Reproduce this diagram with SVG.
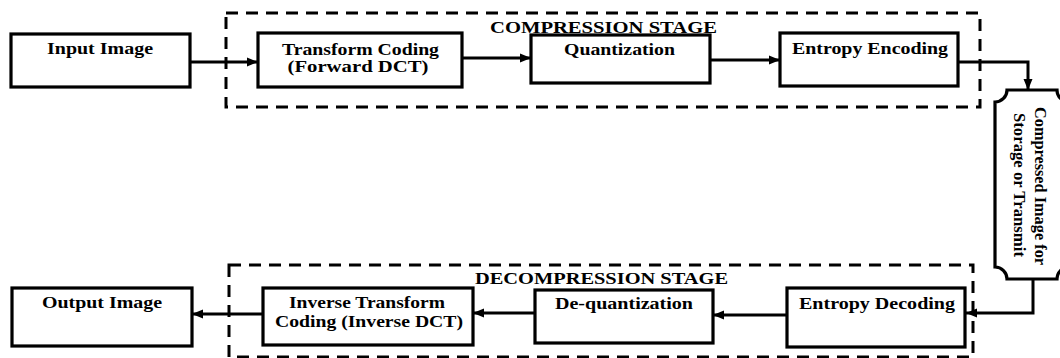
<svg xmlns="http://www.w3.org/2000/svg" width="1060" height="358" viewBox="0 0 1060 358">
  <style>
    .box { fill: #ffffff; stroke: #000000; stroke-width: 3.2; }
    .stage { fill: none; stroke: #000000; stroke-width: 3; stroke-dasharray: 12 8; }
    .lbl { font-family: "Liberation Serif", "Times New Roman", serif; font-weight: bold; font-size: 17px; fill: #000000; text-anchor: middle; }
    .cap { font-family: "Liberation Serif", "Times New Roman", serif; font-weight: bold; font-size: 17px; fill: #000000; text-anchor: middle; }
    .wire { fill: none; stroke: #000000; stroke-width: 3; }
  </style>
  <defs>
    <marker id="arrow" markerUnits="userSpaceOnUse" markerWidth="12" markerHeight="12" viewBox="0 0 12 12" refX="11" refY="6" orient="auto">
      <path d="M0,1.5 L11,6 L0,10.5 Z" fill="#000000"/>
    </marker>
  </defs>

  <rect width="1060" height="358" fill="#ffffff"/>

  <!-- stage frames -->
  <g id="compression-stage">
    <rect class="stage" x="226" y="13" width="754" height="94"/>
    <text class="cap" x="603.5" y="33" textLength="227" lengthAdjust="spacingAndGlyphs">COMPRESSION  STAGE</text>
  </g>
  <g id="decompression-stage">
    <rect class="stage" x="229" y="265" width="744" height="92"/>
    <text class="cap" x="601.5" y="284" textLength="253" lengthAdjust="spacingAndGlyphs">DECOMPRESSION  STAGE</text>
  </g>

  <!-- connectors -->
  <g id="connectors">
    <path class="wire" d="M190,62 H258" marker-end="url(#arrow)"/>
    <path class="wire" d="M462,58 H531" marker-end="url(#arrow)"/>
    <path class="wire" d="M710,60 H780" marker-end="url(#arrow)"/>
    <path class="wire" d="M958,62 H1028 V90" marker-end="url(#arrow)"/>
    <path class="wire" d="M1033,279 V313 H966" marker-end="url(#arrow)"/>
    <path class="wire" d="M787,315 H713" marker-end="url(#arrow)"/>
    <path class="wire" d="M535,313 H473" marker-end="url(#arrow)"/>
    <path class="wire" d="M263,314 H192" marker-end="url(#arrow)"/>
  </g>

  <!-- compression path -->
  <g id="input-image">
    <rect class="box" x="11" y="34" width="179" height="53"/>
    <text class="lbl" x="100" y="54" textLength="106" lengthAdjust="spacingAndGlyphs">Input Image</text>
  </g>
  <g id="transform-coding">
    <rect class="box" x="258" y="33" width="204" height="54"/>
    <text class="lbl" x="360.5" y="55" textLength="157" lengthAdjust="spacingAndGlyphs">Transform Coding</text>
    <text class="lbl" x="358" y="72" textLength="141" lengthAdjust="spacingAndGlyphs">(Forward DCT)</text>
  </g>
  <g id="quantization">
    <rect class="box" x="531" y="35" width="179" height="48"/>
    <text class="lbl" x="619.5" y="55" textLength="111" lengthAdjust="spacingAndGlyphs">Quantization</text>
  </g>
  <g id="entropy-encoding">
    <rect class="box" x="780" y="33" width="178" height="53"/>
    <text class="lbl" x="870" y="54" textLength="156" lengthAdjust="spacingAndGlyphs">Entropy Encoding</text>
  </g>

  <!-- storage / transmission -->
  <g id="compressed-image">
    <path class="box" d="M1007,90 H1057 A12,12 0 0 0 1069,102 V267 A12,12 0 0 0 1057,279 H1007 A12,12 0 0 0 995,267 V102 A12,12 0 0 0 1007,90 Z"/>
    <text class="lbl" transform="translate(1035,186) rotate(90)" font-size="16" textLength="158" lengthAdjust="spacingAndGlyphs">Compressed Image for</text>
    <text class="lbl" transform="translate(1014,185) rotate(90)" font-size="16" textLength="144" lengthAdjust="spacingAndGlyphs">Storage or Transmit</text>
  </g>

  <!-- decompression path -->
  <g id="entropy-decoding">
    <rect class="box" x="787" y="288" width="178" height="59"/>
    <text class="lbl" x="877" y="309" textLength="156" lengthAdjust="spacingAndGlyphs">Entropy Decoding</text>
  </g>
  <g id="de-quantization">
    <rect class="box" x="535" y="290" width="178" height="53"/>
    <text class="lbl" x="624" y="309" textLength="138" lengthAdjust="spacingAndGlyphs">De-quantization</text>
  </g>
  <g id="inverse-transform">
    <rect class="box" x="263" y="288" width="210" height="57"/>
    <text class="lbl" x="367" y="308" textLength="156" lengthAdjust="spacingAndGlyphs">Inverse Transform</text>
    <text class="lbl" x="369" y="327" textLength="188" lengthAdjust="spacingAndGlyphs">Coding (Inverse DCT)</text>
  </g>
  <g id="output-image">
    <rect class="box" x="12" y="288" width="180" height="58"/>
    <text class="lbl" x="102" y="308" textLength="120" lengthAdjust="spacingAndGlyphs">Output Image</text>
  </g>
</svg>
